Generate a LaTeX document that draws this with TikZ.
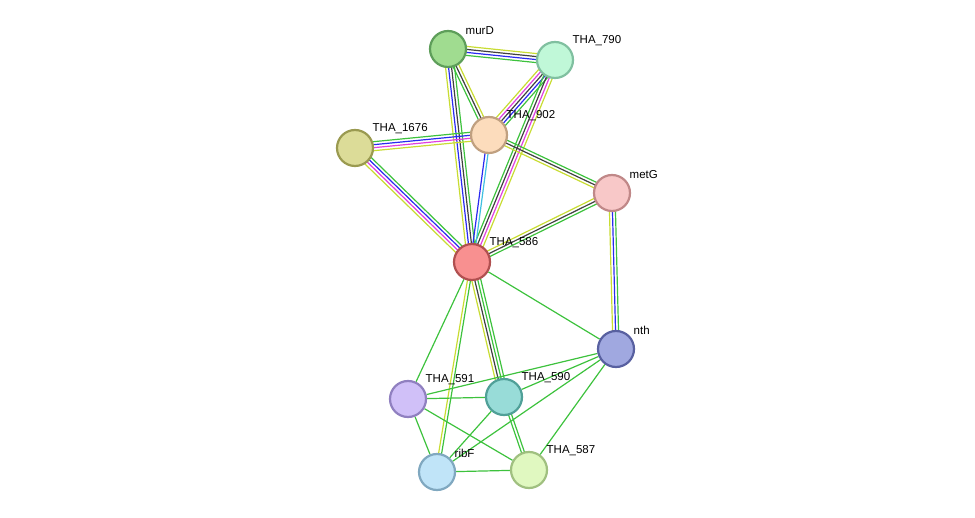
\documentclass[tikz,border=0pt]{standalone}
\usepackage{fontspec}
\setmainfont{Liberation Sans}
\usetikzlibrary{calc,backgrounds}
\definecolor{cG}{HTML}{3DC23D}
\definecolor{cY}{HTML}{C8DC32}
\definecolor{cK}{HTML}{404040}
\definecolor{cB}{HTML}{2A2AF0}
\definecolor{cM}{HTML}{E040E0}
\definecolor{cC}{HTML}{40C0E0}
% node fill and border colours
\definecolor{fmurD}{HTML}{A0DC90}\definecolor{bmurD}{HTML}{5E9E5A}
\definecolor{f790}{HTML}{C0F8D8}\definecolor{b790}{HTML}{80C0A0}
\definecolor{f902}{HTML}{FCDCBC}\definecolor{b902}{HTML}{C0A080}
\definecolor{f1676}{HTML}{DCDC98}\definecolor{b1676}{HTML}{9A9A50}
\definecolor{fmetG}{HTML}{F8C8C8}\definecolor{bmetG}{HTML}{C08888}
\definecolor{f586}{HTML}{F89090}\definecolor{b586}{HTML}{B05050}
\definecolor{fnth}{HTML}{A0A8E0}\definecolor{bnth}{HTML}{5860A0}
\definecolor{f591}{HTML}{D0C0F8}\definecolor{b591}{HTML}{9080C0}
\definecolor{f590}{HTML}{98DCD8}\definecolor{b590}{HTML}{50A098}
\definecolor{fribF}{HTML}{C0E4F8}\definecolor{bribF}{HTML}{80A8C0}
\definecolor{f587}{HTML}{E0F8C0}\definecolor{b587}{HTML}{A0C080}
\tikzset{link/.style={line width=1.2pt,draw=#1}}
% edge from #1 to #2 made of #3 parallel lines coloured #4
\newcommand\medge[4]{
  \foreach \c [count=\i] in {#4} {
    \pgfmathsetmacro\o{(\i-(#3+1)/2)*3.0}
    \draw[link=\c] ($(#1)!\o pt!90:(#2)$) -- ($(#2)!\o pt!-90:(#1)$);
  }
}
\begin{document}
\begin{tikzpicture}[x=1pt,y=-1pt]
\tikzset{prot/.style={circle,draw,line width=2.2pt,minimum size=36pt,inner sep=0,fill=f#1,draw=b#1},
  lbl/.style={font=\fontsize{11.5}{13}\selectfont,inner sep=1pt,xshift=3pt,text=black}}
\useasboundingbox (0,0) rectangle (975,518);

\node[prot=murD,label={[lbl]north east:murD}] (murD) at (448,49) {};
\node[prot=790,label={[lbl]north east:THA\_790}] (t790) at (555,60) {};
\node[prot=902,label={[lbl]north east:THA\_902}] (t902) at (489,135) {};
\node[prot=1676,label={[lbl]north east:THA\_1676}] (t1676) at (355,148) {};
\node[prot=metG,label={[lbl]north east:metG}] (metG) at (612,193) {};
\node[prot=586,label={[lbl]north east:THA\_586}] (t586) at (472,262) {};
\node[prot=nth,label={[lbl]north east:nth}] (nth) at (616,349) {};
\node[prot=591,label={[lbl]north east:THA\_591}] (t591) at (408,399) {};
\node[prot=590,label={[lbl]north east:THA\_590}] (t590) at (504,397) {};
\node[prot=ribF,label={[lbl]north east:ribF}] (ribF) at (437,472) {};
\node[prot=587,label={[lbl]north east:THA\_587}] (t587) at (529,470) {};

\begin{scope}[on background layer]
\medge{murD}{t790}{4}{cG,cB,cK,cY}
\medge{murD}{t902}{3}{cG,cK,cY}
\medge{murD}{t586}{4}{cY,cB,cK,cG}
\medge{t790}{t902}{5}{cY,cM,cK,cB,cG}
\medge{t790}{t586}{4}{cG,cK,cM,cY}
\medge{t1676}{t902}{4}{cY,cM,cB,cG}
\medge{t1676}{t586}{4}{cY,cM,cB,cG}
\medge{t902}{t586}{2}{cB,cC}
\medge{t902}{metG}{3}{cY,cK,cG}
\medge{metG}{t586}{3}{cY,cK,cG}
\medge{metG}{nth}{3}{cY,cB,cG}
\medge{t586}{ribF}{2}{cY,cG}
\medge{t586}{t590}{4}{cY,cK,cG,cG}
\medge{t590}{t587}{2}{cG,cG}
\foreach \a/\b in {t586/nth,t586/t591,nth/t591,nth/t590,nth/ribF,nth/t587,
  t591/t590,t591/ribF,t591/t587,t590/ribF,ribF/t587}
  \draw[link=cG] (\a) -- (\b);
\end{scope}
\end{tikzpicture}
\end{document}
